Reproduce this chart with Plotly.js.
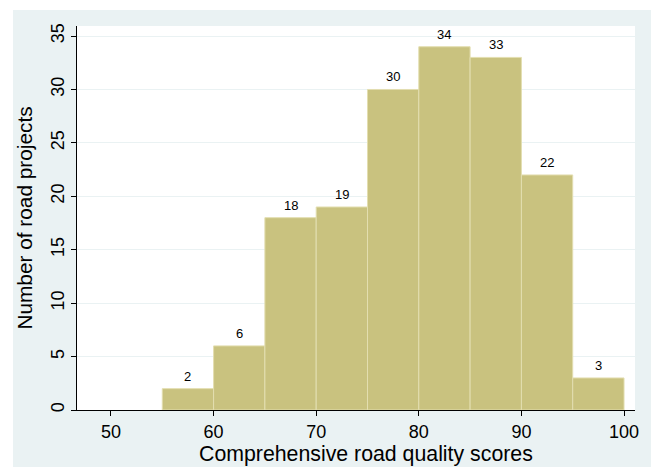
<!DOCTYPE html>
<html>
<head>
<meta charset="utf-8">
<script src="https://cdn.plot.ly/plotly-3.0.1.min.js"></script>
<style>
  html, body { margin: 0; padding: 0; background: #ffffff; width: 651px; height: 467px; overflow: hidden; }
  #chart { position: absolute; left: 13px; top: 10px; width: 638px; height: 457px; }
</style>
</head>
<body>
<div id="chart"></div>
<script>
const binStart = [55, 60, 65, 70, 75, 80, 85, 90, 95];
const binWidth = 5;
const counts = [2, 6, 18, 19, 30, 34, 33, 22, 3];
const xTicks = [50, 60, 70, 80, 90, 100];
const yTicks = [0, 5, 10, 15, 20, 25, 30, 35];
const xTitle = "Comprehensive road quality scores";
const yTitle = "Number of road projects";

const centers = binStart.map(s => s + binWidth / 2);
const font = "Liberation Sans, Arial, Helvetica, sans-serif";

const trace = {
  type: "bar",
  x: centers,
  y: counts,
  width: binStart.map(() => binWidth),
  marker: { color: "#C9C27F", line: { color: "#E3DEB0", width: 1 } },
  hoverinfo: "x+y"
};

const labels = centers.map((c, i) => ({
  x: c, y: counts[i], xref: "x", yref: "y",
  text: String(counts[i]), showarrow: false,
  yanchor: "bottom", yshift: 3,
  font: { family: font, size: 13, color: "#000000" }
}));

labels.push({
  x: 0.5, y: 0, xref: "paper", yref: "paper",
  xanchor: "center", yanchor: "middle",
  xshift: 10, yshift: -44,
  text: xTitle, showarrow: false,
  font: { family: font, size: 21.3, color: "#000000" }
});

const layout = {
  width: 638,
  height: 457,
  margin: { l: 64, r: 16, t: 16, b: 57, pad: 0 },
  paper_bgcolor: "#EAF2F3",
  plot_bgcolor: "#FFFFFF",
  showlegend: false,
  bargap: 0,
  font: { family: font, color: "#000000" },
  annotations: labels,
  xaxis: {
    range: [46.69, 101.07],
    tickvals: xTicks,
    ticktext: xTicks.map(String),
    ticks: "outside", ticklen: 5, tickcolor: "#000000", tickwidth: 1,
    showline: true, linecolor: "#000000", linewidth: 1,
    showgrid: false, zeroline: false,
    tickfont: { family: font, size: 18, color: "#000000" }
  },
  yaxis: {
    range: [0, 35.94],
    tickvals: yTicks,
    ticktext: yTicks.map(String),
    tickangle: -90,
    ticks: "outside", ticklen: 5, tickcolor: "#000000", tickwidth: 1,
    showline: true, linecolor: "#000000", linewidth: 1,
    showgrid: true, gridcolor: "#EAF2F3", gridwidth: 1,
    zeroline: false,
    tickfont: { family: font, size: 18, color: "#000000" },
    title: { text: yTitle, font: { family: font, size: 20.8, color: "#000000" }, standoff: 9 }
  }
};

Plotly.newPlot("chart", [trace], layout, { displayModeBar: false, staticPlot: true });
</script>
</body>
</html>
